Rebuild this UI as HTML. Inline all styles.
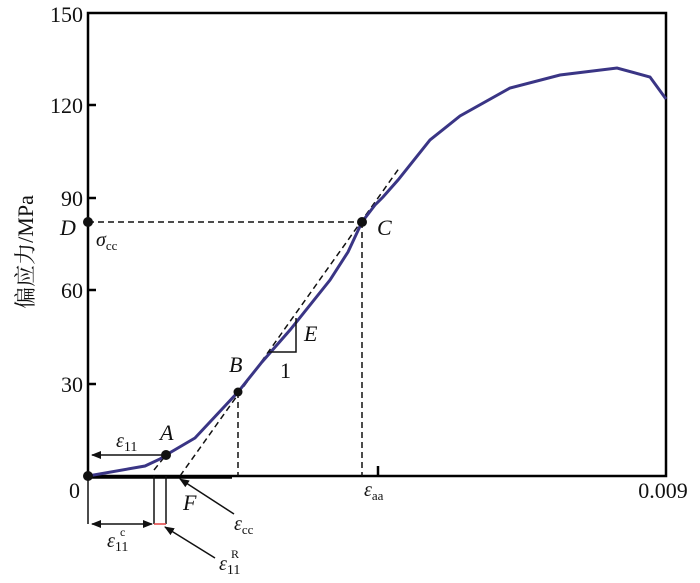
<!DOCTYPE html>
<html><head><meta charset="utf-8"><style>
body{margin:0;background:#fff;width:700px;height:578px;overflow:hidden}
text{font-family:"Liberation Serif","Noto Serif CJK SC",serif;fill:#111}
.it{font-style:italic}
</style></head><body>
<svg width="700" height="578" viewBox="0 0 700 578" xmlns="http://www.w3.org/2000/svg">
<defs><marker id="ah" markerWidth="10" markerHeight="8" refX="9" refY="4" orient="auto" markerUnits="userSpaceOnUse"><path d="M0,0 L10,4 L0,8 z" fill="#111"/></marker></defs>
<rect x="88" y="13" width="578" height="463" fill="none" stroke="#000" stroke-width="2.5"/>
<g stroke="#000" stroke-width="2.5">
<line x1="88" y1="105" x2="96" y2="105"/><line x1="88" y1="198" x2="96" y2="198"/><line x1="88" y1="290" x2="96" y2="290"/><line x1="88" y1="384" x2="96" y2="384"/>
<line x1="378" y1="476" x2="378" y2="466"/>
</g>
<g font-size="22" text-anchor="end">
<text x="83" y="22">150</text><text x="83" y="113">120</text><text x="83" y="206">90</text><text x="83" y="298">60</text><text x="83" y="392">30</text><text x="80" y="498">0</text>
</g>
<text x="663" y="498" font-size="22" text-anchor="middle">0.009</text>
<text transform="translate(33,252) rotate(-90)" font-size="22" text-anchor="middle">偏应力/MPa</text>
<g stroke="#111" stroke-width="1.5" stroke-dasharray="6,4" fill="none">
<line x1="180" y1="476" x2="400" y2="167"/>
<line x1="238" y1="392" x2="238" y2="476"/>
<line x1="362" y1="222" x2="362" y2="476"/>
<line x1="88" y1="222" x2="362" y2="222"/>
<line x1="154" y1="470" x2="166" y2="455"/>
</g>
<line x1="88" y1="477" x2="232" y2="477" stroke="#000" stroke-width="3.5"/>
<polyline fill="none" stroke="#3a3585" stroke-width="3" points="88,476 145,466 160,459 166,455 195,438 238,392 262,362 290,330 330,280 348,252 362,222 375,205 383,197 398,180 430,140 460,116 510,88 560,75 617,68 650,77 666,99"/>
<g stroke="#111" stroke-width="1.5" fill="none">
<polyline points="268,352 296,352 296,318"/>
<line x1="166" y1="455" x2="92" y2="455" marker-end="url(#ah)"/>
<line x1="154" y1="476" x2="154" y2="524"/><line x1="166" y1="476" x2="166" y2="524"/>
<line x1="88" y1="476" x2="88" y2="524"/>
<line x1="120" y1="524" x2="92" y2="524" marker-end="url(#ah)"/>
<line x1="120" y1="524" x2="152" y2="524" marker-end="url(#ah)"/>
<line x1="234" y1="514" x2="180" y2="479" marker-end="url(#ah)"/>
<line x1="215" y1="558" x2="165" y2="527" marker-end="url(#ah)"/>
</g>
<line x1="154" y1="524" x2="166" y2="524" stroke="#e04040" stroke-width="1.5"/>
<g fill="#111">
<circle cx="88" cy="476" r="5"/><circle cx="166" cy="455" r="5"/><circle cx="238" cy="392" r="4.5"/><circle cx="362" cy="222" r="5"/><circle cx="88" cy="222" r="5"/>
</g>
<g font-size="22">
<text x="160" y="440" class="it">A</text><text x="229" y="372" class="it">B</text><text x="377" y="235" class="it">C</text><text x="60" y="235" class="it">D</text><text x="304" y="341" class="it">E</text><text x="183" y="510" class="it">F</text>
</g>
<text x="280" y="378" font-size="22">1</text>
<text x="96" y="246" font-size="20" class="it">σ<tspan font-size="13" font-style="normal" dy="4">cc</tspan></text>
<text x="116" y="447" font-size="20" class="it">ε<tspan font-size="14" font-style="normal" dy="4">11</tspan></text>
<text x="364" y="496" font-size="20" class="it">ε<tspan font-size="13" font-style="normal" dy="4">aa</tspan></text>
<text x="234" y="530" font-size="20" class="it">ε<tspan font-size="13" font-style="normal" dy="4">cc</tspan></text>
<text x="107" y="547" font-size="20" class="it">ε<tspan font-size="14" font-style="normal" dy="4">11</tspan></text>
<text x="120" y="536" font-size="12">c</text>
<text x="219" y="570" font-size="20" class="it">ε<tspan font-size="14" font-style="normal" dy="4">11</tspan></text>
<text x="231" y="558" font-size="12">R</text>
</svg>
</body></html>
